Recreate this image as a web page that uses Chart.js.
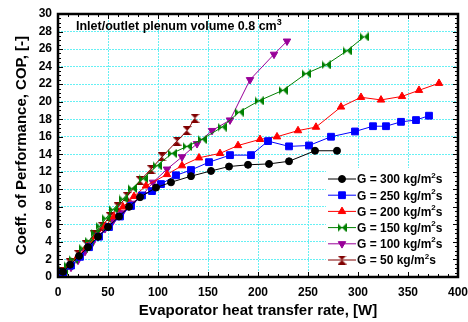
<!DOCTYPE html>
<html>
<head>
<meta charset="utf-8">
<script src="https://cdn.jsdelivr.net/npm/chart.js@4.4.0/dist/chart.umd.min.js"></script>
<style>
  html, body { margin: 0; padding: 0; background: #fff; }
</style>
</head>
<body>
<canvas id="copChart" width="468" height="322"></canvas>
<script>
// COP vs evaporator heat transfer rate, one series per mass flux
const seriesNames = ['G = 300 kg/m²s', 'G = 250 kg/m²s', 'G = 200 kg/m²s',
                     'G = 150 kg/m²s', 'G = 100 kg/m²s', 'G = 50 kg/m²s'];

const g300X = [5, 12, 21, 30, 40, 50, 61, 71, 82, 98, 113, 133, 153, 171, 190, 211, 231, 257, 279];
const g300Y = [0.6, 1.4, 2.4, 3.4, 4.6, 5.7, 6.9, 8.0, 9.1, 10.2, 10.8, 11.5, 12.1, 12.6, 12.8, 12.9, 13.2, 14.4, 14.4];

const g250X = [5, 13, 22, 31, 41, 51, 62, 73, 84, 94, 103, 118, 133, 151, 172, 193, 210, 231, 251, 273, 297, 315, 328, 343, 358, 371];
const g250Y = [0.5, 1.3, 2.3, 3.4, 4.6, 5.7, 6.9, 8.1, 9.3, 9.8, 10.6, 11.6, 12.2, 13.1, 13.9, 13.9, 15.5, 14.9, 15.0, 16.0, 16.6, 17.2, 17.2, 17.7, 17.9, 18.4];

const g200X = [5, 12, 20, 29, 38, 47, 56, 65, 76, 88, 109, 124, 141, 162, 180, 202, 219, 240, 258, 283, 303, 323, 344, 361, 381];
const g200Y = [0.6, 1.4, 2.4, 3.5, 4.6, 5.8, 6.9, 8.0, 9.2, 10.4, 11.7, 12.7, 13.6, 14.1, 15.0, 15.7, 16.0, 16.7, 17.1, 19.4, 20.5, 20.2, 20.6, 21.3, 22.1];

const g150X = [5, 10, 15, 25, 31, 37, 42, 48, 55, 65, 74, 85, 99, 114, 129, 144, 164, 181, 201, 225, 248, 268, 289, 306];
const g150Y = [0.7, 1.3, 2.0, 3.3, 4.1, 5.0, 5.8, 6.7, 7.7, 8.9, 10.1, 11.2, 12.7, 14.1, 14.9, 15.7, 17.1, 18.8, 20.1, 21.3, 23.2, 24.2, 25.8, 27.4];

const g100X = [6, 13, 20, 27, 34, 40, 47, 55, 64, 74, 85, 95, 109, 124, 139, 154, 172, 192, 216, 229];
const g100Y = [0.4, 1.1, 1.9, 2.9, 3.8, 4.6, 5.5, 6.4, 7.3, 8.4, 9.4, 10.8, 12.3, 13.7, 15.2, 16.7, 17.9, 22.5, 25.4, 26.9];

const g50X = [5, 12, 20, 28, 36, 44, 52, 60, 69, 82, 93, 104, 119, 129, 137];
const g50Y = [0.6, 1.6, 2.6, 3.7, 4.8, 5.8, 6.9, 8.0, 9.2, 11.0, 12.3, 13.7, 15.5, 16.7, 18.1];

const noteText = 'Inlet/outlet plenum volume 0.8 cm³';
const xTitle = 'Evaporator heat transfer rate, [W]';
const yTitle = 'Coeff. of Performance, COP, [-]';

const FONT = 'Liberation Sans, Arial, sans-serif';

function pts(xs, ys) {
    return xs.map((x, i) => ({ x: x, y: ys[i] }));
}

// bowtie marker, rotated 90 deg it becomes the hourglass
function bowtie(color) {
    const c = document.createElement('canvas');
    c.width = 9; c.height = 9;
    const g = c.getContext('2d');
    g.fillStyle = color;
    g.beginPath();
    g.moveTo(0, 0); g.lineTo(9, 9); g.lineTo(9, 0); g.lineTo(0, 9);
    g.closePath();
    g.fill();
    return c;
}

function series(i, xs, ys, color, style, radius, rotation) {
    return {
        label: seriesNames[i],
        data: pts(xs, ys),
        borderColor: color,
        backgroundColor: color,
        borderWidth: 1,
        pointStyle: style,
        pointRadius: radius,
        pointRotation: rotation || 0,
        pointBorderWidth: 1,
        pointBackgroundColor: color,
        pointBorderColor: color,
        tension: 0
    };
}

// superscript digits drawn raised and smaller
function drawSupText(ctx, text, x, y, size) {
    const parts = text.split(/([²³])/);
    parts.forEach(p => {
        if (p === '') return;
        if (p === '²' || p === '³') {
            const d = p === '²' ? '2' : '3';
            ctx.font = 'bold ' + Math.round(size * 0.68) + 'px ' + FONT;
            ctx.fillText(d, x, y - size * 0.38);
            x += ctx.measureText(d).width;
        } else {
            ctx.font = 'bold ' + size + 'px ' + FONT;
            ctx.fillText(p, x, y);
            x += ctx.measureText(p).width;
        }
    });
}

const framePlugin = {
    id: 'frame',
    afterDatasetsDraw(chart) {
        const ctx = chart.ctx;
        const a = chart.chartArea;
        const xs = chart.scales.x, ys = chart.scales.y;
        ctx.save();

        // legend box
        ctx.fillStyle = '#fff';
        ctx.fillRect(326, 168, a.right - 327, a.bottom - 173);
        ctx.textBaseline = 'middle';
        chart.data.datasets.forEach((ds, i) => {
            const ly = 179 + i * 16.2;
            ctx.strokeStyle = ds.borderColor;
            ctx.lineWidth = 1;
            ctx.beginPath();
            ctx.moveTo(328, ly); ctx.lineTo(356, ly);
            ctx.stroke();
            ctx.fillStyle = ds.borderColor;
            Chart.helpers.drawPoint(ctx, {
                pointStyle: ds.pointStyle, radius: ds.pointRadius,
                rotation: ds.pointRotation, borderWidth: 1
            }, 342, ly);
            ctx.fillStyle = '#000';
            drawSupText(ctx, ds.label, 357, ly + 1, 12);
        });

        // note
        ctx.textBaseline = 'alphabetic';
        ctx.fillStyle = '#000';
        drawSupText(ctx, noteText, 76, 30, 12.5);

        // frame and inward ticks
        ctx.strokeStyle = '#000';
        ctx.lineWidth = 1;
        ctx.beginPath();
        for (let v = 0; v <= 400; v += 10) {
            const px = Math.round(xs.getPixelForValue(v)) + 0.5;
            const len = v % 50 === 0 ? 5 : 3;
            ctx.moveTo(px, a.bottom); ctx.lineTo(px, a.bottom - len);
            ctx.moveTo(px, a.top); ctx.lineTo(px, a.top + len);
        }
        for (let v = 0; v <= 30; v += 0.5) {
            const py = Math.round(ys.getPixelForValue(v)) + 0.5;
            const len = v % 2 === 0 ? 5 : 3;
            ctx.moveTo(a.left, py); ctx.lineTo(a.left + len, py);
            ctx.moveTo(a.right, py); ctx.lineTo(a.right - len, py);
        }
        ctx.stroke();
        ctx.lineWidth = 2.5;
        ctx.strokeRect(a.left, a.top, a.right - a.left, a.bottom - a.top);
        ctx.restore();
    }
};

const tickFont = { family: FONT, size: 12, weight: 'bold' };
const titleFont = { family: FONT, size: 15, weight: 'bold' };

new Chart(document.getElementById('copChart'), {
    type: 'line',
    data: {
        datasets: [
            series(0, g300X, g300Y, '#000000', 'circle', 3.5),
            series(1, g250X, g250Y, '#0000ff', 'rect', 4.8),
            series(2, g200X, g200Y, '#ff0000', 'triangle', 4.3),
            series(3, g150X, g150Y, '#008000', bowtie('#008000'), 4.5),
            series(4, g100X, g100Y, '#990099', 'triangle', 4.3, 180),
            series(5, g50X, g50Y, '#800000', bowtie('#800000'), 4.5, 90)
        ]
    },
    options: {
        responsive: false,
        animation: false,
        devicePixelRatio: 1,
        layout: { padding: { left: 0, top: 14, right: 10, bottom: 0 } },
        plugins: { legend: { display: false }, tooltip: { enabled: false } },
        scales: {
            x: {
                type: 'linear', min: 0, max: 400,
                ticks: { stepSize: 50, font: tickFont, color: '#000', padding: 8, maxRotation: 0 },
                grid: { color: '#66f0f4', lineWidth: 1, drawTicks: false },
                border: { display: false, dash: [2, 1] },
                title: { display: true, text: xTitle, font: titleFont, color: '#000', padding: { top: 0, bottom: 2 } },
                afterFit(s) { s.height = 45; s.paddingLeft = 0; s.paddingRight = 0; }
            },
            y: {
                min: 0, max: 30,
                ticks: { stepSize: 2, font: tickFont, color: '#000', padding: 6 },
                grid: { color: '#66f0f4', lineWidth: 1, drawTicks: false },
                border: { display: false, dash: [2, 1] },
                title: { display: true, text: yTitle, font: titleFont, color: '#000', padding: { top: 13, bottom: 0 } },
                afterFit(s) { s.width = 58; s.paddingTop = 0; s.paddingBottom = 0; }
            }
        }
    },
    plugins: [framePlugin]
});
</script>
</body>
</html>
